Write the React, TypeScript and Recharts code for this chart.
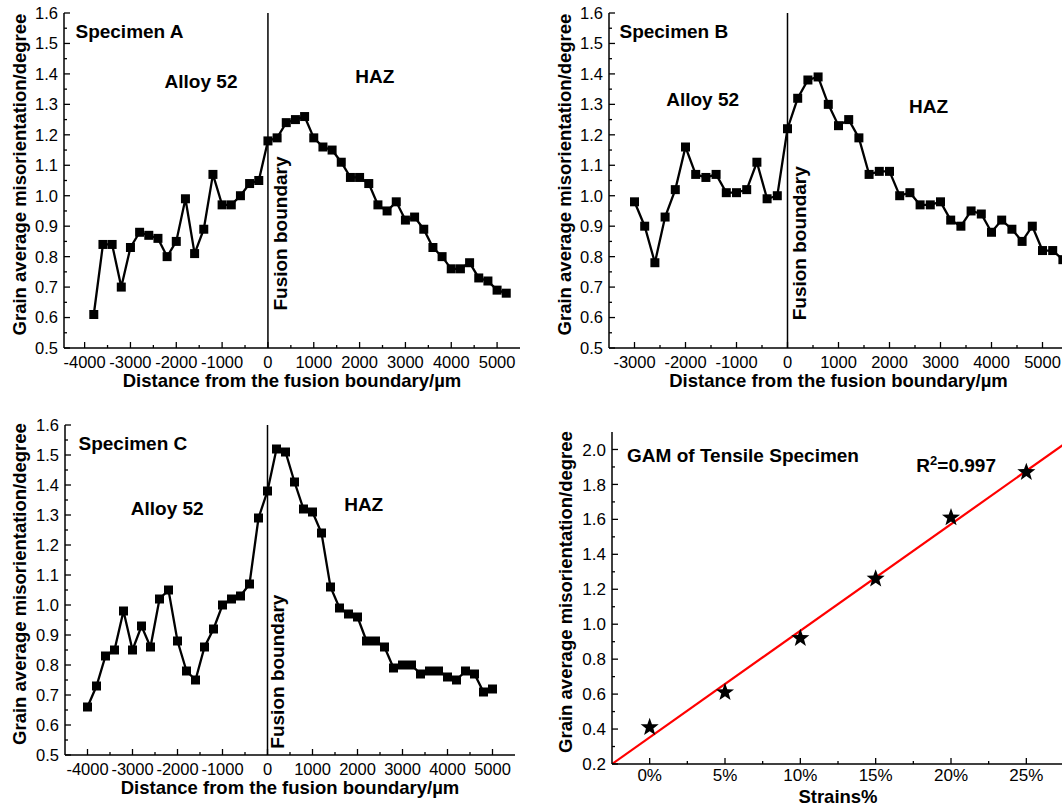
import React from 'react';
import { LineChart, Line, XAxis, YAxis, ReferenceLine, ReferenceDot } from 'recharts';

const FONT = 'Arial, "Liberation Sans", Helvetica, sans-serif';

// Specimen A
const distA = [-3800, -3600, -3400, -3200, -3000, -2800, -2600, -2400, -2200, -2000, -1800, -1600, -1400, -1200, -1000, -800, -600, -400, -200, 0, 200, 400, 600, 800, 1000, 1200, 1400, 1600, 1800, 2000, 2200, 2400, 2600, 2800, 3000, 3200, 3400, 3600, 3800, 4000, 4200, 4400, 4600, 4800, 5000, 5200];
const gamA = [0.61, 0.84, 0.84, 0.70, 0.83, 0.88, 0.87, 0.86, 0.80, 0.85, 0.99, 0.81, 0.89, 1.07, 0.97, 0.97, 1.00, 1.04, 1.05, 1.18, 1.19, 1.24, 1.25, 1.26, 1.19, 1.16, 1.15, 1.11, 1.06, 1.06, 1.04, 0.97, 0.95, 0.98, 0.92, 0.93, 0.89, 0.83, 0.80, 0.76, 0.76, 0.78, 0.73, 0.72, 0.69, 0.68];

// Specimen B
const distB = [-3000, -2800, -2600, -2400, -2200, -2000, -1800, -1600, -1400, -1200, -1000, -800, -600, -400, -200, 0, 200, 400, 600, 800, 1000, 1200, 1400, 1600, 1800, 2000, 2200, 2400, 2600, 2800, 3000, 3200, 3400, 3600, 3800, 4000, 4200, 4400, 4600, 4800, 5000, 5200, 5400];
const gamB = [0.98, 0.90, 0.78, 0.93, 1.02, 1.16, 1.07, 1.06, 1.07, 1.01, 1.01, 1.02, 1.11, 0.99, 1.00, 1.22, 1.32, 1.38, 1.39, 1.30, 1.23, 1.25, 1.19, 1.07, 1.08, 1.08, 1.00, 1.01, 0.97, 0.97, 0.98, 0.92, 0.90, 0.95, 0.94, 0.88, 0.92, 0.89, 0.85, 0.90, 0.82, 0.82, 0.79];

// Specimen C
const distC = [-4000, -3800, -3600, -3400, -3200, -3000, -2800, -2600, -2400, -2200, -2000, -1800, -1600, -1400, -1200, -1000, -800, -600, -400, -200, 0, 200, 400, 600, 800, 1000, 1200, 1400, 1600, 1800, 2000, 2200, 2400, 2600, 2800, 3000, 3200, 3400, 3600, 3800, 4000, 4200, 4400, 4600, 4800, 5000];
const gamC = [0.66, 0.73, 0.83, 0.85, 0.98, 0.85, 0.93, 0.86, 1.02, 1.05, 0.88, 0.78, 0.75, 0.86, 0.92, 1.00, 1.02, 1.03, 1.07, 1.29, 1.38, 1.52, 1.51, 1.41, 1.32, 1.31, 1.24, 1.06, 0.99, 0.97, 0.96, 0.88, 0.88, 0.86, 0.79, 0.80, 0.80, 0.77, 0.78, 0.78, 0.76, 0.75, 0.78, 0.77, 0.71, 0.72];

// tensile specimens
const strains = [0, 5, 10, 15, 20, 25];
const gamTensile = [0.41, 0.61, 0.92, 1.26, 1.61, 1.87];
const fitStrain = [-2.5, 27.5];
const fitGam = [0.2, 2.03];

// ticks
const distTicks = [-4000, -3500, -3000, -2500, -2000, -1500, -1000, -500, 0, 500, 1000, 1500, 2000, 2500, 3000, 3500, 4000, 4500, 5000];
const gamTicks = [0.5, 0.55, 0.6, 0.65, 0.7, 0.75, 0.8, 0.85, 0.9, 0.95, 1.0, 1.05, 1.1, 1.15, 1.2, 1.25, 1.3, 1.35, 1.4, 1.45, 1.5, 1.55, 1.6];
const strainTicks = [0, 2.5, 5, 7.5, 10, 12.5, 15, 17.5, 20, 22.5, 25];
const tensileTicks = [0.2, 0.3, 0.4, 0.5, 0.6, 0.7, 0.8, 0.9, 1.0, 1.1, 1.2, 1.3, 1.4, 1.5, 1.6, 1.7, 1.8, 1.9, 2.0];

const X_TITLE = 'Distance from the fusion boundary/\u00b5m';
const Y_TITLE = 'Grain average misorientation/degree';

const isTenth = (v: number) => Math.abs(v * 10 - Math.round(v * 10)) < 1e-6;

function BottomTick(props: any) {
  const { x, y, payload, isMajor, fmt, fontSize = 16.5, gap = 20 } = props;
  const major = isMajor(payload.value);
  return (
    <g>
      <line x1={x} x2={x} y1={y} y2={y - (major ? 6 : 3)} stroke="#000" strokeWidth={1.3} />
      {major && (
        <text x={x} y={y + gap} textAnchor="middle" fontSize={fontSize} fill="#000">
          {fmt(payload.value)}
        </text>
      )}
    </g>
  );
}

function LeftTick(props: any) {
  const { x, y, payload, isMajor, fmt, fontSize = 16.5 } = props;
  const major = isMajor(payload.value);
  return (
    <g>
      <line x1={x} x2={x + (major ? 6 : 3)} y1={y} y2={y} stroke="#000" strokeWidth={1.3} />
      {major && (
        <text x={x - 6} y={y} dy="0.36em" textAnchor="end" fontSize={fontSize} fill="#000">
          {fmt(payload.value)}
        </text>
      )}
    </g>
  );
}

const TopTick = (p: any) => <line x1={p.x} x2={p.x} y1={p.y} y2={p.y + 3} stroke="#555" strokeWidth={1} />;
const RightTick = (p: any) => <line x1={p.x} x2={p.x - 4} y1={p.y} y2={p.y} stroke="#000" strokeWidth={1} />;

const yTitle = (dx: number) => (p: any) => {
  const vb = p.viewBox;
  const cx = vb.x + dx;
  const cy = vb.y + vb.height / 2 - 6;
  return (
    <text x={cx} y={cy} dy="0.36em" textAnchor="middle" transform={`rotate(-90 ${cx} ${cy})`}
      fontSize={18.5} fontWeight="bold" fill="#000">
      {Y_TITLE}
    </text>
  );
};

const xTitle = (text: string, dy: number) => (p: any) => {
  const vb = p.viewBox;
  return (
    <text x={vb.x + vb.width / 2} y={vb.y + dy} textAnchor="middle" fontSize={18.5} fontWeight="bold" fill="#000">
      {text}
    </text>
  );
};

type Note = { x: number; y: number; text: React.ReactNode; start?: boolean; vertical?: boolean };

const noteLabel = (n: Note) => (p: any) => {
  const vb = p.viewBox;
  const cx = vb.x + vb.width / 2;
  const cy = vb.y + vb.height / 2;
  return (
    <text x={cx} y={cy} dy="0.36em" textAnchor={n.start ? 'start' : 'middle'}
      transform={n.vertical ? `rotate(-90 ${cx} ${cy})` : undefined}
      fontSize={19} fontWeight="bold" fill="#000">
      {n.text}
    </text>
  );
};

const squareDot = (p: any) => (
  <rect key={`sq-${p.index}`} x={p.cx - 4.5} y={p.cy - 4.5} width={9} height={9} fill="#000" />
);

const starDot = (p: any) => {
  const R = 9.5;
  const r = 3.9;
  const pts: string[] = [];
  for (let i = 0; i < 10; i++) {
    const rad = i % 2 === 0 ? R : r;
    const a = -Math.PI / 2 + (i * Math.PI) / 5;
    pts.push(`${p.cx + rad * Math.cos(a)},${p.cy + rad * Math.sin(a)}`);
  }
  return <polygon key={`st-${p.index}`} points={pts.join(' ')} fill="#000" />;
};

type PanelProps = {
  left: number;
  top: number;
  width: number;
  height: number;
  margin: { top: number; right: number; left: number; bottom: number };
  yAxisWidth: number;
  xAxisHeight: number;
  xDomain: [number, number];
  dist: number[];
  gam: number[];
  notes: Note[];
};

function DistancePanel({ left, top, width, height, margin, yAxisWidth, xAxisHeight, xDomain, dist, gam, notes }: PanelProps) {
  const rows = dist.map((x, i) => ({ x, v: gam[i] }));
  const xTicks = distTicks.filter((t) => t > xDomain[0] && t < xDomain[1]);
  const xMajors = xTicks.filter((t) => t % 1000 === 0);
  const yMajors = gamTicks.filter(isTenth);
  return (
    <div style={{ position: 'absolute', left, top }}>
      <LineChart width={width} height={height} data={rows} margin={margin}>
        <XAxis xAxisId="main" dataKey="x" type="number" domain={xDomain} allowDataOverflow ticks={xTicks}
          interval={0} tickSize={0} tickMargin={0} tickLine={false} height={xAxisHeight}
          axisLine={{ stroke: '#000', strokeWidth: 1.5 }}
          tick={<BottomTick isMajor={(v: number) => v % 1000 === 0} fmt={(v: number) => String(v)} />}
          label={xTitle(X_TITLE, 39)} />
        <XAxis xAxisId="top" orientation="top" dataKey="x" type="number" domain={xDomain} allowDataOverflow
          ticks={xMajors} interval={0} tickSize={0} tickMargin={0} tickLine={false} height={0}
          axisLine={{ stroke: '#444', strokeWidth: 1.5 }} tick={<TopTick />} />
        <YAxis yAxisId="main" type="number" domain={[0.5, 1.6]} allowDataOverflow ticks={gamTicks} interval={0}
          tickSize={0} tickMargin={0} tickLine={false} width={yAxisWidth}
          axisLine={{ stroke: '#000', strokeWidth: 1.5 }}
          tick={<LeftTick isMajor={isTenth} fmt={(v: number) => v.toFixed(1)} />}
          label={yTitle(19)} />
        <YAxis yAxisId="right" orientation="right" type="number" domain={[0.5, 1.6]} allowDataOverflow
          ticks={yMajors} interval={0} tickSize={0} tickMargin={0} tickLine={false} width={0}
          axisLine={{ stroke: '#000', strokeWidth: 1.5 }} tick={<RightTick />} />
        <ReferenceLine xAxisId="main" yAxisId="main" x={0} stroke="#000" strokeWidth={1.5} />
        {notes.map((n, i) => (
          <ReferenceDot key={`note-${i}`} xAxisId="main" yAxisId="main" x={n.x} y={n.y} r={1}
            fill="none" stroke="none" label={noteLabel(n)} />
        ))}
        <Line xAxisId="top" yAxisId="right" dataKey="v" stroke="none" dot={false} activeDot={false}
          isAnimationActive={false} />
        <Line xAxisId="main" yAxisId="main" type="linear" dataKey="v" stroke="#000" strokeWidth={2.3}
          dot={squareDot} activeDot={false} isAnimationActive={false} />
      </LineChart>
    </div>
  );
}

function TensilePanel() {
  const starRows = strains.map((x, i) => ({ x, y: gamTensile[i] }));
  const fitRows = fitStrain.map((x, i) => ({ x, y: fitGam[i] }));
  const xDomain: [number, number] = [-2.5, 27.5];
  const yDomain: [number, number] = [0.2, 2.1];
  const yMajor = (v: number) => Math.round(v * 10) % 2 === 0;
  return (
    <div style={{ position: 'absolute', left: 545, top: 410 }}>
      <LineChart width={530} height={397} margin={{ top: 22, right: 11, left: 0, bottom: 0 }}>
        <XAxis xAxisId="main" dataKey="x" type="number" domain={xDomain} allowDataOverflow ticks={strainTicks}
          interval={0} tickSize={0} tickMargin={0} tickLine={false} height={43}
          axisLine={{ stroke: '#000', strokeWidth: 1.5 }}
          tick={<BottomTick isMajor={(v: number) => v % 5 === 0} fmt={(v: number) => `${v}%`} fontSize={17} gap={17} />}
          label={xTitle('Strains%', 39)} />
        <XAxis xAxisId="top" orientation="top" dataKey="x" type="number" domain={xDomain} allowDataOverflow
          ticks={strains} interval={0} tickSize={0} tickMargin={0} tickLine={false} height={0}
          axisLine={{ stroke: '#444', strokeWidth: 1.5 }} tick={<TopTick />} />
        <YAxis yAxisId="main" dataKey="y" type="number" domain={yDomain} allowDataOverflow ticks={tensileTicks}
          interval={0} tickSize={0} tickMargin={0} tickLine={false} width={67}
          axisLine={{ stroke: '#000', strokeWidth: 1.5 }}
          tick={<LeftTick isMajor={yMajor} fmt={(v: number) => v.toFixed(1)} fontSize={17} />}
          label={yTitle(20)} />
        <YAxis yAxisId="right" orientation="right" dataKey="y" type="number" domain={yDomain} allowDataOverflow
          ticks={tensileTicks.filter(yMajor)} interval={0} tickSize={0} tickMargin={0} tickLine={false} width={0}
          axisLine={{ stroke: '#000', strokeWidth: 1.5 }} tick={<RightTick />} />
        <ReferenceDot xAxisId="main" yAxisId="main" x={-1.5} y={1.968} r={1} fill="none" stroke="none"
          label={noteLabel({ x: -1.5, y: 1.968, text: 'GAM of Tensile Specimen', start: true })} />
        <ReferenceDot xAxisId="main" yAxisId="main" x={17.7} y={1.91} r={1} fill="none" stroke="none"
          label={noteLabel({
            x: 17.7,
            y: 1.91,
            start: true,
            text: (
              <>
                <tspan>R</tspan>
                <tspan dy={-7} fontSize={13}>2</tspan>
                <tspan dy={7}>=0.997</tspan>
              </>
            ),
          })} />
        <Line xAxisId="top" yAxisId="right" data={starRows} dataKey="y" stroke="none" dot={false}
          activeDot={false} isAnimationActive={false} />
        <Line xAxisId="main" yAxisId="main" data={starRows} dataKey="y" stroke="none" dot={starDot}
          activeDot={false} isAnimationActive={false} />
        <Line xAxisId="main" yAxisId="main" data={fitRows} dataKey="y" type="linear" stroke="#ff0000"
          strokeWidth={2.2} dot={false} activeDot={false} isAnimationActive={false} />
      </LineChart>
    </div>
  );
}

export default function App() {
  return (
    <div style={{ position: 'absolute', left: 0, top: 0, width: 1062, height: 807, overflow: 'hidden',
      background: '#fff', fontFamily: FONT }}>
      <DistancePanel left={0} top={0} width={530} height={400}
        margin={{ top: 13, right: 10, left: 0, bottom: 0 }} yAxisWidth={64} xAxisHeight={52}
        xDomain={[-4450, 5500]} dist={distA} gam={gamA}
        notes={[
          { x: -4200, y: 1.54, text: 'Specimen A', start: true },
          { x: -1460, y: 1.377, text: 'Alloy 52' },
          { x: 2330, y: 1.394, text: 'HAZ' },
          { x: 260, y: 0.876, text: 'Fusion boundary', vertical: true },
        ]} />
      <DistancePanel left={545} top={0} width={530} height={400}
        margin={{ top: 13, right: 7, left: 0, bottom: 0 }} yAxisWidth={64} xAxisHeight={52}
        xDomain={[-3500, 5500]} dist={distB} gam={gamB}
        notes={[
          { x: -3295, y: 1.541, text: 'Specimen B', start: true },
          { x: -1663, y: 1.316, text: 'Alloy 52' },
          { x: 2765, y: 1.294, text: 'HAZ' },
          { x: 220, y: 0.844, text: 'Fusion boundary', vertical: true },
        ]} />
      <DistancePanel left={0} top={410} width={525} height={397}
        margin={{ top: 15, right: 10, left: 0, bottom: 0 }} yAxisWidth={65} xAxisHeight={52}
        xDomain={[-4500, 5500]} dist={distC} gam={gamC}
        notes={[
          { x: -4200, y: 1.539, text: 'Specimen C', start: true },
          { x: -2229, y: 1.322, text: 'Alloy 52' },
          { x: 2138, y: 1.336, text: 'HAZ' },
          { x: 215, y: 0.778, text: 'Fusion boundary', vertical: true },
        ]} />
      <TensilePanel />
    </div>
  );
}
